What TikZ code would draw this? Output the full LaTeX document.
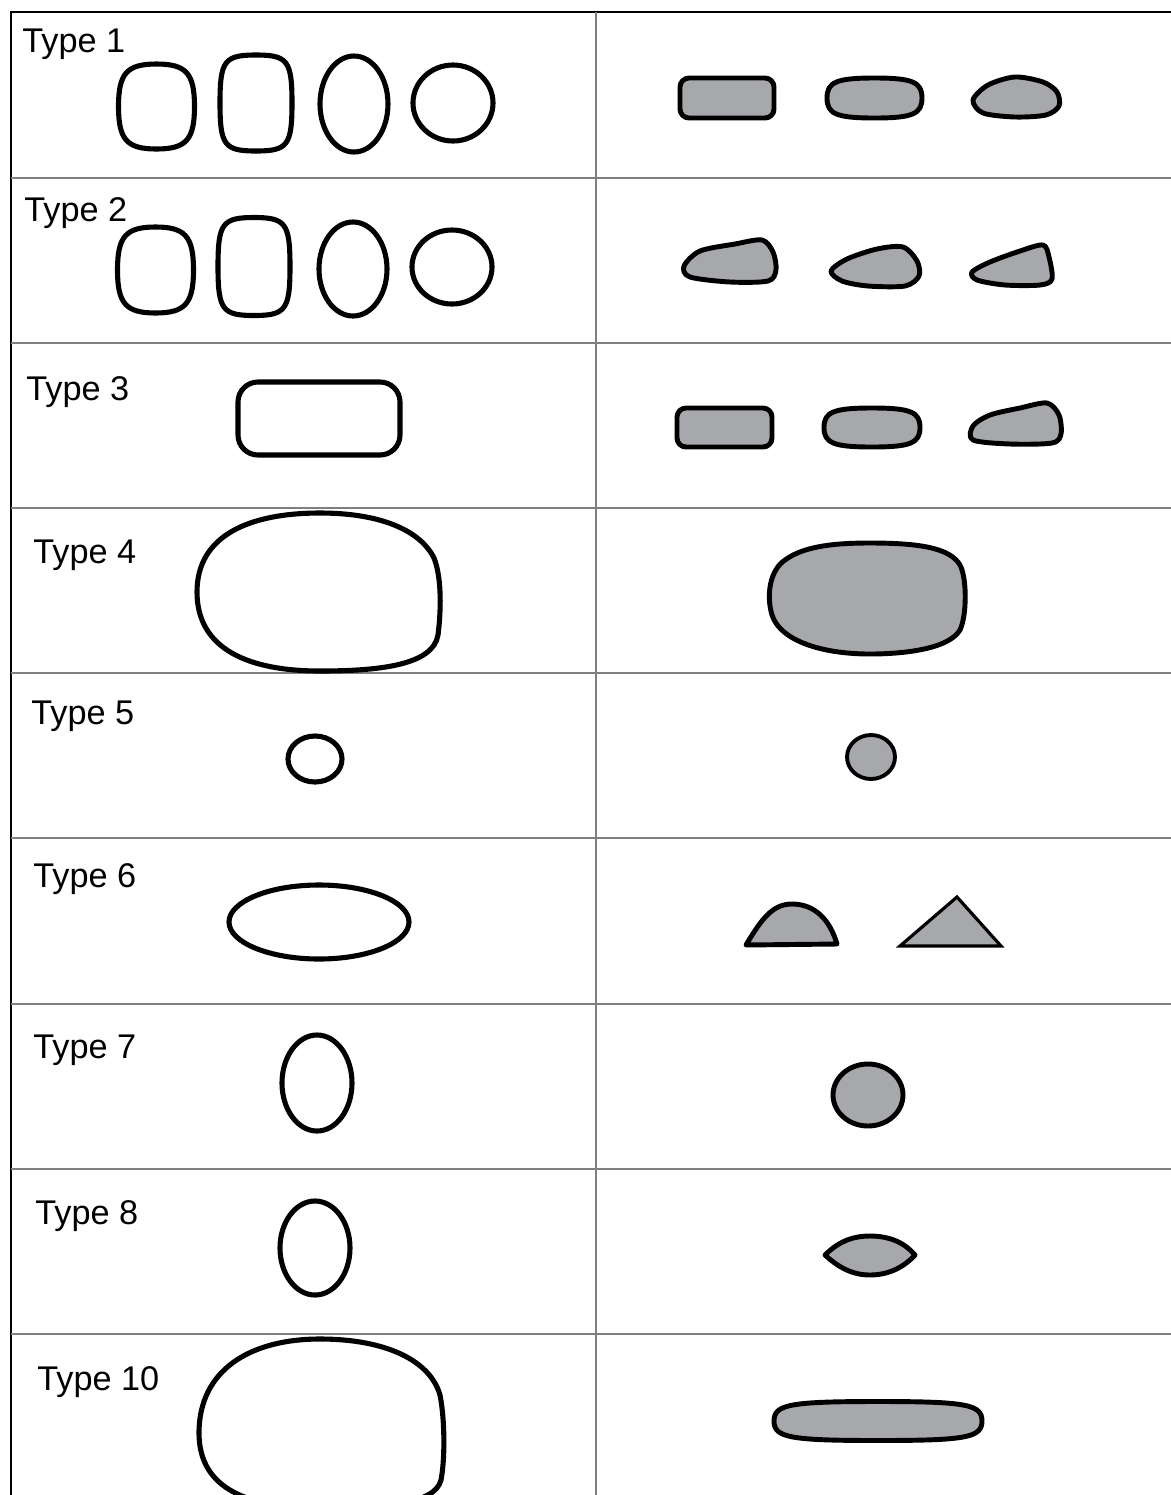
\documentclass[tikz,border=0pt]{standalone}
\usepackage{fontspec}
\setmainfont{Liberation Sans}
\definecolor{shapegray}{HTML}{A7A8AC}
\definecolor{rulegray}{HTML}{7F7F7F}
% rounded box: style, centre x, centre y, half width, half height, squareness
\newcommand{\squircle}[6]{%
    \draw[#1] ({#2},{#3-#5}) .. controls ({#2+#6*#4},{#3-#5}) and ({#2+#4},{#3-#6*#5}) .. ({#2+#4},{#3})
        .. controls ({#2+#4},{#3+#6*#5}) and ({#2+#6*#4},{#3+#5}) .. ({#2},{#3+#5})
        .. controls ({#2-#6*#4},{#3+#5}) and ({#2-#4},{#3+#6*#5}) .. ({#2-#4},{#3})
        .. controls ({#2-#4},{#3-#6*#5}) and ({#2-#6*#4},{#3-#5}) .. cycle;}

\begin{document}
\begin{tikzpicture}[
    x=0.2mm, y=-0.2mm,
    outer rule/.style={draw=black, line width=0.9pt},
    inner rule/.style={draw=rulegray, line width=0.8pt},
    typelabel/.style={anchor=base west, inner sep=0pt, font=\fontsize{19.5}{23}\selectfont},
    openshape/.style={draw=black, line width=2.9pt, fill=white},
    fullshape/.style={draw=black, line width=2.8pt, fill=shapegray, line join=round}
]
    \useasboundingbox (0,0) rectangle (1171,1495);
    \clip (0,0) rectangle (1171,1495);

    % table
    \draw[outer rule] (1171,12) -- (11,12) -- (11,1500);
    \draw[inner rule] (596,12) -- (596,1500);
    \foreach \rowy in {178,343,508,673,838,1004,1169,1334}
        \draw[inner rule] (11,\rowy) -- (1171,\rowy);

    % labels
    \node[typelabel] (type1) at (22,52) {Type 1};
    \node[typelabel] (type2) at (24,221) {Type 2};
    \node[typelabel] (type3) at (26,400) {Type 3};
    \node[typelabel] (type4) at (33,563) {Type 4};
    \node[typelabel] (type5) at (31,724) {Type 5};
    \node[typelabel] (type6) at (33,887) {Type 6};
    \node[typelabel] (type7) at (33,1058) {Type 7};
    \node[typelabel] (type8) at (35,1224) {Type 8};
    \node[typelabel] (type10) at (37,1390) {Type 10};

    % Type 1
    \squircle{openshape}{156.5}{106.5}{38}{42.5}{0.78}
    \squircle{openshape}{256}{103}{36}{48}{0.88}
    \draw[openshape] (354,104) ellipse [x radius=34, y radius=48];
    \draw[openshape] (453,103) ellipse [x radius=40, y radius=38];
    \draw[fullshape, rounded corners=1.8mm] (680,78) rectangle (774,118);
    \squircle{fullshape}{874.5}{98}{47.5}{20}{0.8}
    \draw[fullshape] plot[smooth cycle] coordinates {(973,100) (988,85) (1015,77) (1043,82) (1057,92) (1059,106) (1046,115) (1015,117) (983,113)};

    % Type 2
    \squircle{openshape}{155.5}{270}{38}{43}{0.78}
    \squircle{openshape}{254}{266.5}{36}{49}{0.88}
    \draw[openshape] (353,269) ellipse [x radius=34, y radius=47];
    \draw[openshape] (452,267) ellipse [x radius=40, y radius=37];
    \draw[fullshape] plot[smooth cycle, tension=0.5] coordinates {(684,266) (700,251) (735,244) (762,240) (773,252) (776,270) (768,281) (730,282) (690,277)};
    \draw[fullshape] plot[smooth cycle, tension=0.5] coordinates {(831,271) (847,259) (877,249) (903,247) (917,261) (919,276) (905,286) (868,286) (842,281)};
    \draw[fullshape] plot[smooth cycle, tension=0.5] coordinates {(972,272) (990,262) (1020,251) (1043,245) (1049,257) (1052,279) (1040,285) (1005,285) (977,280)};

    % Type 3
    \draw[openshape, rounded corners=4mm] (238,382) rectangle (400,455);
    \draw[fullshape, rounded corners=1.8mm] (677,408) rectangle (772,447);
    \squircle{fullshape}{872}{427.5}{48}{19.5}{0.8}
    \draw[fullshape] plot[smooth cycle, tension=0.5] coordinates {(973,440) (973,426) (990,415) (1020,408) (1047,403) (1059,415) (1061,434) (1052,443) (1010,444)};

    % Type 4
    \draw[openshape] (320,513) .. controls (380,513) and (420,530) .. (434,558)
        .. controls (442,578) and (441,612) .. (438,635)
        .. controls (433,665) and (380,671) .. (320,671)
        .. controls (250,671) and (197,650) .. (197,592)
        .. controls (197,535) and (250,513) .. cycle;
    \draw[fullshape] (870,543) .. controls (920,543) and (950,548) .. (960,565)
        .. controls (967,578) and (967,615) .. (960,630)
        .. controls (948,650) and (900,654) .. (870,654)
        .. controls (820,654) and (780,640) .. (772,615)
        .. controls (766,595) and (770,570) .. (785,560)
        .. controls (805,545) and (840,543) .. cycle;

    % Type 5
    \draw[openshape] (315,759) ellipse [x radius=27, y radius=23];
    \draw[fullshape, line width=2.2pt] (871,757) ellipse [x radius=24, y radius=22];

    % Type 6
    \draw[openshape] (319,922) ellipse [x radius=90, y radius=37];
    \draw[fullshape] (746,945) .. controls (762,918) and (773,904) .. (792,904)
        .. controls (815,904) and (830,920) .. (837,944) -- cycle;
    \draw[fullshape, line width=1.8pt, line join=miter] (900,946) -- (957,897) -- (1001,946) -- cycle;

    % Type 7
    \draw[openshape] (317,1083) ellipse [x radius=35, y radius=48];
    \draw[fullshape] (868,1095) ellipse [x radius=35, y radius=31];

    % Type 8
    \draw[openshape] (315,1248) ellipse [x radius=35, y radius=47];
    \draw[fullshape] (825,1255) .. controls (840,1240) and (855,1236) .. (870,1236)
        .. controls (890,1236) and (905,1243) .. (915,1255)
        .. controls (905,1266) and (890,1275) .. (870,1275)
        .. controls (852,1275) and (838,1267) .. cycle;

    % Type 10
    \draw[openshape] (320,1339) .. controls (385,1339) and (430,1360) .. (440,1395)
        .. controls (445,1420) and (445,1460) .. (441,1480)
        .. controls (435,1505) and (380,1508) .. (320,1508)
        .. controls (250,1508) and (199,1490) .. (199,1433)
        .. controls (199,1370) and (250,1339) .. cycle;
    \squircle{fullshape}{878}{1421}{104}{19.5}{0.85}
\end{tikzpicture}
\end{document}
